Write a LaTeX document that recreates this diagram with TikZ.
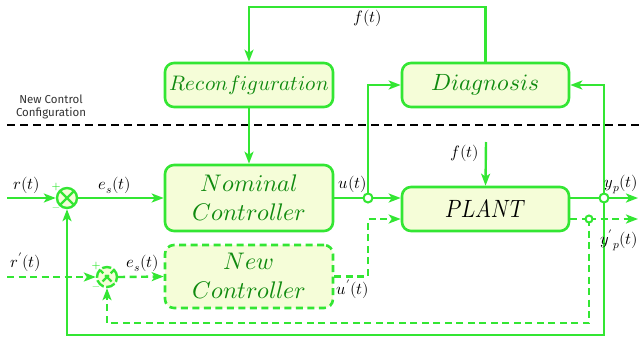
\documentclass[tikz,border=0pt]{standalone}
\usepackage{fontspec}
\usepackage{unicode-math}
\setmathfont{Latin Modern Math}
\usetikzlibrary{arrows.meta}
\newfontfamily\labfont{Fira Sans}
\definecolor{lg}{HTML}{33E633}
\definecolor{bf}{HTML}{F5FDD8}
\definecolor{tg}{HTML}{0F8A0F}
\tikzset{
  box/.style={draw=lg, line width=2.6pt, fill=bf, rounded corners=9pt, text=tg, inner sep=0pt, align=center},
  bigtxt/.style={font=\fontsize{24}{29}\selectfont},
  ln/.style={draw=lg, line width=2.4pt},
  dln/.style={draw=lg, line width=2.4pt, dash pattern=on 7pt off 4.5pt},
  arr/.style={-{Stealth[length=12pt,width=9pt,inset=3pt]}},
  lab/.style={font=\fontsize{16.5}{18}\selectfont, inner sep=0pt},
  sgn/.style={font=\fontsize{10}{10}\selectfont\bfseries, text=lg, inner sep=0pt},
  sumnode/.style={circle, draw=lg, line width=2.4pt, fill=bf, minimum size=20pt, inner sep=0pt,
    path picture={\draw[lg, line width=2.4pt] (path picture bounding box.north west) -- (path picture bounding box.south east)
      (path picture bounding box.north east) -- (path picture bounding box.south west);}},
  junc/.style={circle, draw=lg, line width=2pt, fill=white, minimum size=#1, inner sep=0pt},
}
\begin{document}
\begin{tikzpicture}[x=1pt, y=-1pt]
\useasboundingbox (0,0) rectangle (639,338);
% separator
\draw[black, line width=2.2pt, dash pattern=on 8pt off 5pt] (7,125) -- (639,125);
\node[font=\labfont\fontsize{11.5}{12.5}\selectfont, text=black!80, align=center, inner sep=0pt] (ncc) at (51,107) {New Control\\Configuration};

% boxes
\node[box, font=\fontsize{21}{23}\selectfont, minimum width=168pt, minimum height=44pt] (rec) at (249,85) {$Reconfiguration$};
\node[box, font=\fontsize{23.5}{25}\selectfont, minimum width=167pt, minimum height=44pt] (diag) at (485.5,85) {$Diagnosis$};
\node[box, bigtxt, minimum width=168pt, minimum height=66pt] (nom) at (249,198) {$Nominal$\\$Controller$};
\node[box, font=\fontsize{25}{27}\selectfont, text=black, minimum width=167pt, minimum height=44pt] (plant) at (485.5,209) {\scalebox{0.84}[1]{$PLANT$}};
\node[box, bigtxt, dash pattern=on 7pt off 4.5pt, minimum width=168pt, minimum height=63pt] (newc) at (249,276.5) {$New$\\$Controller$};

% summing junctions
\node[sumnode] (s1) at (67,198) {};
\node[sumnode, dash pattern=on 9pt off 2.5pt] (s2) at (107,277) {};
\node[sgn] (p1) at (56,187) {+};
\node[sgn] (m1) at (56,209) {$-$};
\node[sgn] (p2) at (96,266) {+};
\node[sgn] (m2) at (96,288) {$-$};

% coordinates
\coordinate (rin) at (7,198);
\coordinate (rpin) at (7,277);
\coordinate (j1) at (368,198);
\coordinate (j2) at (604,198);
\coordinate (j3) at (589,219);
\coordinate (yout) at (638,198);
\coordinate (ypout) at (638,219);
\coordinate (fin) at (486,142);
\coordinate (c1) at (368,219);
\coordinate (b1) at (604,335);
\coordinate (b2) at (589,323);

% solid connectors
\draw[ln, arr] (rin) -- (s1.west);
\draw[ln, arr] (s1.east) -- (nom.west);
\draw[ln] (nom.east |- j1) -- (j1);
\draw[ln, arr] (j1) -- (plant.west |- j1);
\draw[ln, arr] (j1) |- (diag.west);
\draw[ln] (plant.east |- j2) -- (j2);
\draw[ln, arr] (j2) -- (yout);
\draw[ln, arr] (j2) |- (diag.east);
\draw[ln, arr] (j2) -- (b1) -| (s1.south);
\draw[ln, arr] (diag.north) -- ++(0,-55) -| (rec.north);
\draw[ln, arr] (rec.south) -- (nom.north);
\draw[ln, arr] (fin) -- (plant.north);

% dashed connectors
\draw[dln, arr] (rpin) -- (s2.west);
\draw[dln, arr] (s2.east) -- (newc.west);
\draw[dln, arr] (newc.east) -| (c1) -- (plant.west |- c1);
\draw[dln] (plant.east |- j3) -- (j3);
\draw[dln, arr] (j3) -- (ypout);
\draw[dln, arr] (j3) -- (b2) -| (s2.south);

% junction dots
\node[junc=9pt] (jd1) at (j1) {};
\node[junc=9pt] (jd2) at (j2) {};
\node[junc=7pt] (jd3) at (j3) {};

% labels
\node[lab] (lr) at (27,185) {$r(t)$};
\node[lab] (les1) at (115,185) {$e_s(t)$};
\node[lab] (lu) at (353,184) {$u(t)$};
\node[lab] (lf1) at (368,18) {$f(t)$};
\node[lab] (lf2) at (465,153) {$f(t)$};
\node[lab, anchor=east] (lyp) at (638.5,184) {$y_p(t)$};
\node[lab, anchor=east] (lypp) at (638.5,240) {$y'{}_p(t)$};
\node[lab] (lrp) at (26,262) {$r'(t)$};
\node[lab] (les2) at (143,263) {$e_s(t)$};
\node[lab] (lup) at (353,289) {$u'(t)$};
\end{tikzpicture}
\end{document}
